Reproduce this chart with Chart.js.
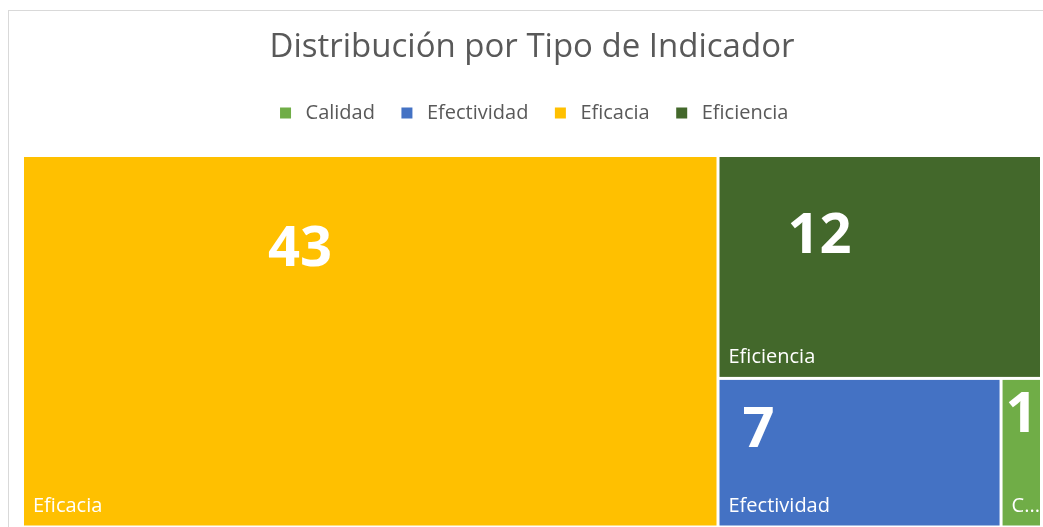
<!DOCTYPE html>
<html>
<head>
<meta charset="utf-8">
<script src="https://cdn.jsdelivr.net/npm/chart.js@4.4.0/dist/chart.umd.min.js"></script>
<style>
    body { margin: 0; background: #fff; }
    #wrap { position: relative; width: 1043px; height: 527px; }
</style>
</head>
<body>
<div id="wrap"><canvas id="chart-1"></canvas></div>
<script>
// Données du treemap
const categories = ['Calidad', 'Efectividad', 'Eficacia', 'Eficiencia'];
const values = [1, 7, 43, 12];
const colors = ['#70AD47', '#4472C4', '#FFC000', '#43682B'];

// position du grand chiffre dans chaque case (px depuis le coin haut-gauche)
const numberPos = {
    Calidad: [19, 36],
    Efectividad: [39, 51],
    Eficacia: [276, 93],
    Eficiencia: [100, 80]
};

const FONT = '"Open Sans", sans-serif';

function worst(row, side){
    const s = row.reduce((a, it) => a + it.a, 0);
    const mx = Math.max(...row.map(it => it.a));
    const mn = Math.min(...row.map(it => it.a));
    return Math.max(side * side * mx / (s * s), (s * s) / (side * side * mn));
}

// squarified treemap
function squarify(items, rect){
    const total = items.reduce((a, it) => a + it.v, 0);
    const k = rect.w * rect.h / total;
    let list = items.map(it => ({...it, a: it.v * k}));
    let r = {...rect};
    const out = [];
    while(list.length){
        const side = Math.min(r.w, r.h);
        let row = [list[0]];
        let i = 1;
        while(i < list.length){
            const next = row.concat([list[i]]);
            if(worst(next, side) <= worst(row, side)){ row = next; i++; }
            else break;
        }
        list = list.slice(row.length);
        const rowArea = row.reduce((a, it) => a + it.a, 0);
        if(r.w >= r.h){
            const cw = rowArea / r.h;
            let y = r.y;
            row.forEach(it => { const h = it.a / cw; out.push({...it, x: r.x, y: y, w: cw, h: h}); y += h; });
            r = {x: r.x + cw, y: r.y, w: r.w - cw, h: r.h};
        } else {
            const rh = rowArea / r.w;
            let x = r.x;
            row.forEach(it => { const w = it.a / rh; out.push({...it, x: x, y: r.y, w: w, h: rh}); x += w; });
            r = {x: r.x, y: r.y + rh, w: r.w, h: r.h - rh};
        }
    }
    return out;
}

function fitText(ctx, txt, maxW){
    if(ctx.measureText(txt).width <= maxW) return txt;
    let t = txt;
    while(t.length > 1 && ctx.measureText(t + '...').width > maxW){
        t = t.slice(0, -1);
    }
    return t + '...';
}

const treemapPlugin = {
    id: 'treemap',
    beforeDraw(chart){
        const ctx = chart.ctx;
        ctx.save();
        ctx.strokeStyle = '#d9d9d9';
        ctx.lineWidth = 1;
        ctx.strokeRect(8.5, 10.5, 2000, 2000);
        ctx.restore();
    },
    afterDatasetsDraw(chart){
        const ctx = chart.ctx;
        const xs = chart.scales.x, ys = chart.scales.y;
        const rect = {
            x: xs.getPixelForValue(0),
            y: ys.getPixelForValue(1),
            w: xs.getPixelForValue(1) - xs.getPixelForValue(0),
            h: ys.getPixelForValue(0) - ys.getPixelForValue(1)
        };
        const items = categories.map((c, i) => ({i: i, name: c, v: values[i]}))
            .sort((a, b) => b.v - a.v);
        const cells = squarify(items, rect);
        const gap = 1.5;

        cells.forEach(cell => {
            const x = cell.x + gap, y = cell.y + gap;
            const w = cell.w - 2 * gap, h = cell.h - 2 * gap;
            ctx.save();
            ctx.fillStyle = colors[cell.i];
            ctx.fillRect(x, y, w, h);
            ctx.beginPath();
            ctx.rect(x, y, w, h);
            ctx.clip();

            // valeur
            const pos = numberPos[cell.name] || [w / 2, h / 2];
            ctx.fillStyle = '#ffffff';
            ctx.font = 'bold 56px ' + FONT;
            ctx.textAlign = 'center';
            ctx.textBaseline = 'middle';
            ctx.fillText(String(cell.v), x + pos[0], y + pos[1]);

            // nom
            ctx.font = '20px ' + FONT;
            ctx.textAlign = 'left';
            ctx.textBaseline = 'alphabetic';
            const bottom = Math.min(y + h, chart.height + 1);
            ctx.fillText(fitText(ctx, cell.name, w - 12), x + 9, bottom - 14);
            ctx.restore();
        });
    }
};

const datasets = categories.map((c, i) => ({
    label: c,
    data: [],
    backgroundColor: colors[i],
    borderColor: colors[i],
    borderWidth: 0
}));

const config = {
    type: 'scatter',
    data: { datasets: datasets },
    options: {
        responsive: false,
        animation: false,
        layout: { padding: { left: 22.5, right: 1.5, top: 0, bottom: -4 } },
        scales: {
            x: {
                type: 'linear', min: 0, max: 1, position: 'top',
                ticks: { display: false },
                grid: { display: false },
                border: { display: false },
                afterFit: function(scale){ scale.height = 22.5; }
            },
            y: { type: 'linear', min: 0, max: 1, display: false }
        },
        plugins: {
            tooltip: { enabled: false },
            title: {
                display: true,
                text: 'Distribución por Tipo de Indicador',
                color: '#595959',
                font: { family: FONT, size: 33, weight: 'normal', lineHeight: 1.2 },
                padding: { top: 28, bottom: 13.4 }
            },
            legend: {
                position: 'top',
                labels: {
                    color: '#595959',
                    font: { family: FONT, size: 20 },
                    usePointStyle: true,
                    pointStyle: 'rect',
                    boxWidth: 20,
                    boxHeight: 11,
                    padding: 22
                }
            }
        }
    },
    plugins: [treemapPlugin]
};

const canvas = document.getElementById('chart-1');
canvas.width = 1043;
canvas.height = 527;
const chart1 = new Chart(canvas, config);
</script>
</body>
</html>
